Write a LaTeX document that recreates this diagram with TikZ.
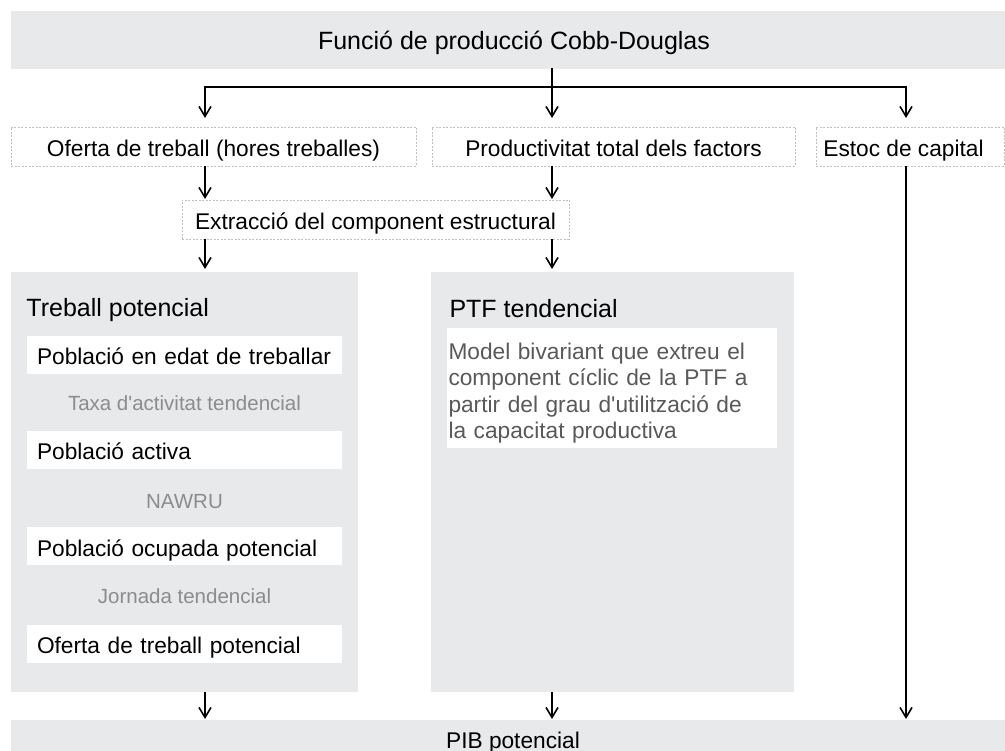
\documentclass[tikz,border=0pt]{standalone}
\usepackage{fontspec}
\setmainfont{Liberation Sans}
\usetikzlibrary{arrows.meta,calc}
\definecolor{boxgray}{RGB}{232,233,235}
\definecolor{dashgray}{RGB}{192,192,192}
\definecolor{labgray}{RGB}{140,140,140}
\definecolor{bodygray}{RGB}{89,89,89}
\newcommand\fBody{\fontsize{22.7pt}{27pt}\selectfont}
\newcommand\fLab{\fontsize{20.5pt}{24pt}\selectfont}
\newcommand\fTtl{\fontsize{25pt}{30pt}\selectfont}
\newcommand\fPtf{\fontsize{22.7pt}{26.5pt}\selectfont}
\begin{document}
\begin{tikzpicture}[x=1pt,y=-1pt,
  every node/.style={inner sep=0pt, outer sep=0pt},
  panel/.style={fill=boxgray},
  dbox/.style={draw=dashgray, line width=0.75pt, dash pattern=on 2pt off 1.5pt, fill=white,
    minimum height=39pt, font=\fBody, text height=20pt, text depth=0pt},
  wbox/.style={fill=white, minimum height=38pt, inner xsep=10pt, text width=295pt,
    align=left, font=\fBody, text height=20pt, text depth=0pt},
  glabel/.style={font=\fLab, text=labgray, anchor=base},
  ttl/.style={font=\fTtl, anchor=base west},
  arr/.style={line width=1.6pt, -{Straight Barb[length=10pt,width=12pt]}},
  trunk/.style={line width=2.6pt, line cap=rect}]
\useasboundingbox (0,0) rectangle (1005,751);
\fill[white] (0,0) rectangle (1005,751);

% top box
\node[panel, minimum width=994pt, minimum height=58pt, font=\fTtl, text height=20pt, text depth=0pt]
  (top) at (508,40) {\hspace*{12pt}Funció de producció Cobb-Douglas};

% second row
\node[dbox, minimum width=405pt] (b1) at (213.5,146.5) {Oferta de treball (hores treballes)};
\node[dbox, minimum width=363pt] (b2) at (613.5,146.5) {Productivitat total dels factors};
\node[dbox, minimum width=188pt] (b3) at (910,146.5) {Estoc de capital\hspace*{13pt}};
\node[dbox, minimum width=387pt] (ext) at (375.5,219.5) {Extracció del component estructural};

% panels
\node[panel, minimum width=347pt, minimum height=420pt] (tp) at (184.5,482) {};
\node[panel, minimum width=363pt, minimum height=420pt] (ptf) at (612.5,482) {};
\node[ttl] (tpt) at (26.5,317) {Treball potencial};
\node[ttl] (ptft) at (449.5,318) {PTF tendencial};

% left column
\node[wbox] (w1) at (184.5,355) {Població en edat de treballar};
\node[glabel] (g1) at (184.5,410.5) {Taxa d\textquotesingle activitat tendencial};
\node[wbox] (w2) at (184.5,450) {Població activa};
\node[glabel] (g2) at (184.5,508.3) {NAWRU};
\node[wbox] (w3) at (184.5,546) {Població ocupada potencial};
\node[glabel] (g3) at (184.5,603.3) {Jornada tendencial};
\node[wbox] (w4) at (184.5,643.5) {Oferta de treball potencial};

% PTF white box
\node[fill=white, minimum width=330pt, minimum height=120pt] (pw) at (612,388) {};
\node[anchor=north west, text width=330pt, align=left, font=\fPtf, text=bodygray]
  (pwt) at (448.5,342.6) {Model bivariant que extreu el\\component cíclic de la PTF a\\partir del grau d\textquotesingle utilització de\\la capacitat productiva};

% bottom
\node[panel, minimum width=994pt, minimum height=31pt, font=\fBody, text height=25pt, text depth=0pt]
  (pib) at (508,735.5) {\hspace*{10pt}PIB potencial};

% connectors
\coordinate (j) at (552,87);
\coordinate (jl) at (205,87);
\coordinate (jr) at (906,87);
\draw[trunk] (top.south -| j) -- (j);
\draw[trunk] (jl) -- (jr);
\draw[arr, shorten >=9pt] (jl) -- (jl |- b1.north);
\draw[arr, shorten >=9pt] (j) -- (j |- b2.north);
\draw[arr, shorten >=9pt] (jr) -- (jr |- b3.north);
\draw[arr, shorten >=1pt] (b1.south -| jl) -- (ext.north -| jl);
\draw[arr, shorten >=1pt] (b2.south -| j) -- (ext.north -| j);
\draw[arr, shorten >=3pt] (ext.south -| jl) -- (tp.north -| jl);
\draw[arr, shorten >=3pt] (ext.south -| j) -- (ptf.north -| j);
\draw[arr, shorten >=1pt] (tp.south -| jl) -- (pib.north -| jl);
\draw[arr, shorten >=1pt] (ptf.south -| j) -- (pib.north -| j);
\draw[arr, shorten >=1pt] (b3.south -| jr) -- (pib.north -| jr);
\end{tikzpicture}
\end{document}
